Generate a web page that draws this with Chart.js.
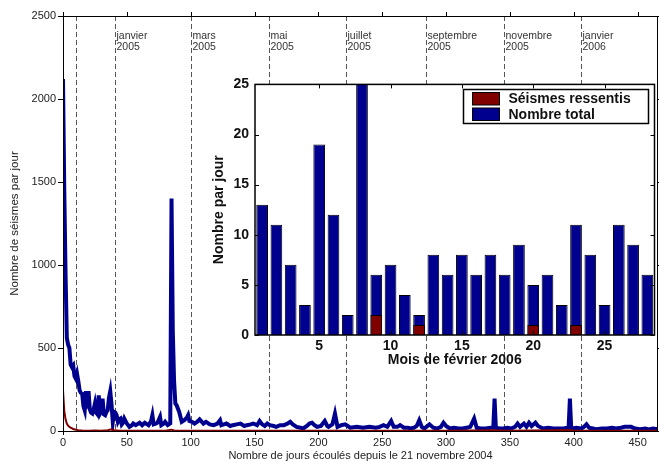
<!DOCTYPE html>
<html>
<head>
<meta charset="utf-8">
<script src="https://cdn.jsdelivr.net/npm/chart.js@4.4.0/dist/chart.umd.min.js"></script>
<style>
  html, body { margin: 0; padding: 0; background: #fff; }
  #wrap { position: relative; width: 659px; height: 461px; }
  #mainChart { position: absolute; left: 0; top: 0; }
  #insetChart { position: absolute; left: 200px; top: 70px; }
</style>
</head>
<body>
<div id="wrap">
  <canvas id="mainChart" width="659" height="461"></canvas>
  <canvas id="insetChart" width="459" height="302"></canvas>
</div>
<script>
(function () {
    'use strict';

    // daily totals since 21 Nov 2004
    var totalDays = [0, 1, 2, 3, 4, 5, 6, 7, 8, 9, 10, 11, 12, 13, 14, 15, 16, 17, 18, 19, 20, 21, 22, 23, 24, 25, 26, 27, 28, 29,
        30, 31, 32, 33, 34, 35, 36, 37, 38, 39, 40, 41, 42, 43, 44, 45, 46, 47, 48, 49, 50, 52, 54, 55, 57, 58, 60, 62, 64, 66,
        67, 69, 70, 71, 73, 74, 76, 77, 79, 80, 82, 84, 85, 86, 87, 88, 89, 91, 93, 95, 97, 98, 99, 101, 103, 105, 107, 110, 112, 115,
        118, 121, 123, 124, 126, 128, 131, 133, 136, 139, 142, 144, 147, 149, 152, 154, 156, 158, 160, 162, 165, 167, 170, 173, 176, 178, 180, 183, 186, 188,
        191, 193, 195, 197, 199, 202, 205, 207, 208, 211, 213, 215, 218, 221, 223, 225, 230, 235, 240, 245, 248, 251, 254, 257, 259, 262, 264, 267, 270, 272,
        275, 277, 279, 281, 283, 287, 290, 293, 296, 298, 300, 303, 306, 310, 313, 316, 319, 322, 324, 327, 331, 335, 337, 338, 339, 342, 345, 348, 351, 354,
        356, 358, 361, 363, 365, 367, 370, 372, 376, 380, 384, 388, 392, 395, 396, 397, 398, 399, 402, 406, 408, 410, 412, 415, 418, 422, 426, 430, 433, 437,
        440, 443, 445, 448, 452, 456, 459, 462, 466];
    var totalCounts = [2120, 1450, 950, 560, 520, 500, 400, 385, 395, 330, 315, 345, 300, 245, 230, 225, 150, 125, 240, 135, 240, 130, 110, 105, 130, 165, 110, 100, 215, 105,
        120, 195, 100, 95, 115, 125, 200, 240, 160, 55, 115, 110, 95, 55, 70, 75, 40, 50, 75, 60, 45, 25, 35, 45, 35, 40, 50, 35, 50, 40,
        35, 60, 95, 40, 45, 50, 85, 35, 45, 55, 35, 45, 1400, 600, 300, 165, 155, 115, 55, 65, 80, 95, 60, 55, 45, 55, 70, 45, 55, 40,
        35, 45, 65, 35, 40, 45, 30, 35, 40, 45, 30, 35, 40, 45, 35, 60, 40, 30, 45, 35, 30, 25, 35, 35, 45, 55, 40, 25, 20, 15,
        30, 45, 50, 35, 25, 30, 60, 30, 25, 40, 105, 25, 35, 40, 30, 20, 25, 20, 25, 20, 25, 35, 25, 60, 25, 25, 35, 20, 20, 15,
        20, 30, 65, 25, 15, 40, 20, 15, 25, 50, 30, 15, 20, 15, 15, 20, 25, 75, 20, 15, 15, 20, 20, 195, 20, 15, 15, 20, 15, 25,
        45, 25, 45, 25, 50, 30, 50, 30, 15, 20, 15, 15, 15, 20, 20, 195, 20, 15, 20, 15, 25, 40, 20, 15, 10, 15, 15, 20, 15, 20,
        25, 25, 25, 15, 10, 15, 10, 15, 10];

    // felt earthquakes per day
    var feltDays = [0, 1, 2, 3, 4, 5, 6, 8, 10, 12, 15, 20, 25, 30, 35, 38, 40, 45, 50, 60, 70, 80, 85, 87, 90, 100, 120, 150, 200, 250, 300, 338, 350, 397, 400, 466];
    var feltCounts = [245, 120, 70, 45, 32, 25, 20, 12, 8, 5, 3, 2, 3, 2, 4, 10, 4, 2, 1, 2, 1, 2, 8, 3, 2, 2, 1, 2, 1, 2, 1, 5, 1, 6, 1, 1];

    // month boundaries (days since 21 Nov 2004)
    var monthDays = [10, 41, 100, 161, 222, 284, 345, 406];
    var monthLabels = [[], ['janvier', '2005'], ['mars', '2005'], ['mai', '2005'], ['juillet', '2005'],
        ['septembre', '2005'], ['novembre', '2005'], ['janvier', '2006']];

    // inset: February 2006
    var febDays = [1, 2, 3, 4, 5, 6, 7, 8, 9, 10, 11, 12, 13, 14, 15, 16, 17, 18, 19, 20, 21, 22, 23, 24, 25, 26, 27, 28];
    var febTotal = [13, 11, 7, 3, 19, 12, 2, 27, 6, 7, 4, 2, 8, 6, 8, 6, 8, 6, 9, 5, 6, 3, 11, 8, 3, 11, 9, 6];
    var febFelt = [0, 0, 0, 0, 0, 0, 0, 0, 2, 0, 0, 1, 0, 0, 0, 0, 0, 0, 0, 1, 0, 0, 1, 0, 0, 0, 0, 0];

    var FONT = '"Liberation Sans", Arial, Helvetica, sans-serif';
    var BLUE = '#00008f';
    var RED = '#800000';

    function pts(xs, ys) {
        return xs.map(function (x, i) { return { x: x, y: ys[i] }; });
    }

    var mainDecor = {
        id: 'mainDecor',
        beforeDatasetsDraw: function (chart) {
            var ctx = chart.ctx, a = chart.chartArea, xs = chart.scales.x;
            ctx.save();
            ctx.strokeStyle = '#555';
            ctx.lineWidth = 1;
            ctx.setLineDash([5, 3]);
            ctx.font = '10.5px ' + FONT;
            ctx.fillStyle = '#333';
            ctx.textAlign = 'left';
            ctx.textBaseline = 'middle';
            monthDays.forEach(function (d, i) {
                var px = Math.round(xs.getPixelForValue(d)) + 0.5;
                ctx.beginPath();
                ctx.moveTo(px, a.top);
                ctx.lineTo(px, a.bottom);
                ctx.stroke();
                monthLabels[i].forEach(function (t, j) {
                    ctx.fillText(t, px + 1, a.top + 20 + j * 11);
                });
            });
            ctx.restore();
        },
        afterDraw: function (chart) {
            var ctx = chart.ctx, a = chart.chartArea, xs = chart.scales.x, ys = chart.scales.y;
            ctx.save();
            ctx.strokeStyle = '#000';
            ctx.lineWidth = 1;
            ctx.strokeRect(Math.round(a.left) + 0.5, Math.round(a.top) + 0.5,
                Math.round(a.right - a.left) - 1, Math.round(a.bottom - a.top));
            ctx.beginPath();
            xs.ticks.forEach(function (t) {
                if (t.value % 50 !== 0) return;
                var px = Math.round(xs.getPixelForValue(t.value)) + 0.5;
                ctx.moveTo(px, a.bottom); ctx.lineTo(px, a.bottom + 4);
                ctx.moveTo(px, a.top); ctx.lineTo(px, a.top - 4);
            });
            ys.ticks.forEach(function (t) {
                var py = Math.round(ys.getPixelForValue(t.value)) + 0.5;
                ctx.moveTo(a.left, py); ctx.lineTo(a.left - 5, py);
                ctx.moveTo(a.right, py); ctx.lineTo(a.right + 4, py);
            });
            ctx.stroke();
            ctx.restore();
        }
    };

    new Chart(document.getElementById('mainChart').getContext('2d'), {
        type: 'line',
        data: {
            datasets: [
                {
                    label: 'Séismes ressentis',
                    data: pts(feltDays, feltCounts),
                    borderColor: RED,
                    borderWidth: 2,
                    pointRadius: 0,
                    tension: 0
                },
                {
                    label: 'Nombre total',
                    data: pts(totalDays, totalCounts),
                    borderColor: BLUE,
                    borderWidth: 4,
                    pointRadius: 0,
                    tension: 0
                }
            ]
        },
        options: {
            responsive: false,
            animation: false,
            layout: { padding: { top: 16, right: 1, left: 0, bottom: 0 } },
            plugins: { legend: { display: false }, tooltip: { enabled: false } },
            scales: {
                x: {
                    type: 'linear',
                    min: 0,
                    max: 466,
                    grid: { display: false, drawTicks: false },
                    border: { display: false },
                    afterFit: function (s) { s.height = 30; },
                    ticks: {
                        stepSize: 50,
                        includeBounds: false,
                        padding: 5,
                        color: '#222',
                        font: { family: FONT, size: 11 },
                        callback: function (v) { return v % 50 === 0 ? String(v) : ''; }
                    },
                    title: {
                        display: true,
                        text: 'Nombre de jours écoulés depuis le 21 novembre 2004',
                        color: '#222',
                        font: { family: FONT, size: 11, lineHeight: 1 },
                        padding: { top: 0, bottom: 0 }
                    }
                },
                y: {
                    min: 0,
                    max: 2500,
                    grid: { display: false, drawTicks: false },
                    border: { display: false },
                    afterFit: function (s) { s.width = 63; },
                    ticks: {
                        stepSize: 500,
                        padding: 7,
                        color: '#222',
                        font: { family: FONT, size: 11 },
                        callback: function (v) { return String(v); }
                    },
                    title: {
                        display: true,
                        text: 'Nombre de séismes par jour',
                        color: '#222',
                        font: { family: FONT, size: 11.5 },
                        padding: { top: 8, bottom: 0 }
                    }
                }
            }
        },
        plugins: [mainDecor]
    });

    var insetDecor = {
        id: 'insetDecor',
        beforeDraw: function (chart) {
            var ctx = chart.ctx, a = chart.chartArea;
            ctx.save();
            ctx.fillStyle = '#fff';
            ctx.fillRect(a.left, a.top, a.right - a.left, a.bottom - a.top);
            ctx.restore();
        },
        afterDraw: function (chart) {
            var ctx = chart.ctx, a = chart.chartArea, xs = chart.scales.x, ys = chart.scales.y;
            ctx.save();
            ctx.strokeStyle = '#000';
            ctx.lineWidth = 1.5;
            ctx.strokeRect(a.left, a.top, a.right - a.left, a.bottom - a.top);
            ctx.lineWidth = 1;
            ctx.beginPath();
            febDays.forEach(function (d, i) {
                if (d % 5 !== 0) return;
                var px = Math.round(xs.getPixelForValue(i)) + 0.5;
                ctx.moveTo(px, a.bottom); ctx.lineTo(px, a.bottom - 4);
                ctx.moveTo(px, a.top); ctx.lineTo(px, a.top + 4);
            });
            ys.ticks.forEach(function (t) {
                var py = Math.round(ys.getPixelForValue(t.value)) + 0.5;
                ctx.moveTo(a.left, py); ctx.lineTo(a.left + 4, py);
                ctx.moveTo(a.right, py); ctx.lineTo(a.right - 4, py);
            });
            ctx.stroke();

            // legend box, top right inside the plot
            var bw = 185, bh = 34;
            var bx = Math.round(a.right - 7 - bw) + 0.5, by = Math.round(a.top + 5) + 0.5;
            ctx.fillStyle = '#fff';
            ctx.fillRect(bx, by, bw, bh);
            ctx.lineWidth = 1.5;
            ctx.strokeRect(bx, by, bw, bh);
            ctx.font = 'bold 14px ' + FONT;
            ctx.textAlign = 'left';
            ctx.textBaseline = 'middle';
            chart.data.datasets.forEach(function (ds, i) {
                var sy = by + 3 + i * 15.5;
                ctx.fillStyle = ds.backgroundColor;
                ctx.fillRect(bx + 9, sy, 27, 12.5);
                ctx.lineWidth = 1;
                ctx.strokeStyle = '#000';
                ctx.strokeRect(bx + 9, sy, 27, 12.5);
                ctx.fillStyle = '#111';
                ctx.fillText(ds.label, bx + 45, sy + 7);
            });
            ctx.restore();
        }
    };

    new Chart(document.getElementById('insetChart').getContext('2d'), {
        type: 'bar',
        data: {
            labels: febDays,
            datasets: [
                {
                    label: 'Séismes ressentis',
                    data: febFelt,
                    backgroundColor: RED,
                    borderColor: '#000',
                    borderWidth: 1,
                    barPercentage: 0.82,
                    categoryPercentage: 1
                },
                {
                    label: 'Nombre total',
                    data: febTotal,
                    backgroundColor: BLUE,
                    borderColor: '#000',
                    borderWidth: 1,
                    barPercentage: 0.82,
                    categoryPercentage: 1
                }
            ]
        },
        options: {
            responsive: false,
            animation: false,
            layout: { padding: { top: 9, right: 4.5, left: 0, bottom: 0 } },
            plugins: { legend: { display: false }, tooltip: { enabled: false } },
            scales: {
                x: {
                    stacked: true,
                    grid: { display: false, drawTicks: false },
                    border: { display: false },
                    afterFit: function (s) { s.height = 37; },
                    ticks: {
                        autoSkip: false,
                        maxRotation: 0,
                        padding: 3,
                        color: '#111',
                        font: { family: FONT, size: 14, weight: 'bold' },
                        callback: function (v, i) {
                            return febDays[i] % 5 === 0 ? String(febDays[i]) : '';
                        }
                    },
                    title: {
                        display: true,
                        text: 'Mois de février 2006',
                        color: '#111',
                        font: { family: FONT, size: 14, weight: 'bold' },
                        padding: { top: 0, bottom: 3.5 }
                    }
                },
                y: {
                    stacked: false,
                    min: 0,
                    max: 25,
                    grid: { display: false, drawTicks: false },
                    border: { display: false },
                    afterFit: function (s) { s.width = 55; },
                    ticks: {
                        stepSize: 5,
                        padding: 6,
                        color: '#111',
                        font: { family: FONT, size: 14, weight: 'bold' }
                    },
                    title: {
                        display: true,
                        text: 'Nombre par jour',
                        color: '#111',
                        font: { family: FONT, size: 14, weight: 'bold' },
                        padding: { top: 10.5, bottom: 0 }
                    }
                }
            }
        },
        plugins: [insetDecor]
    });
})();
</script>
</body>
</html>
